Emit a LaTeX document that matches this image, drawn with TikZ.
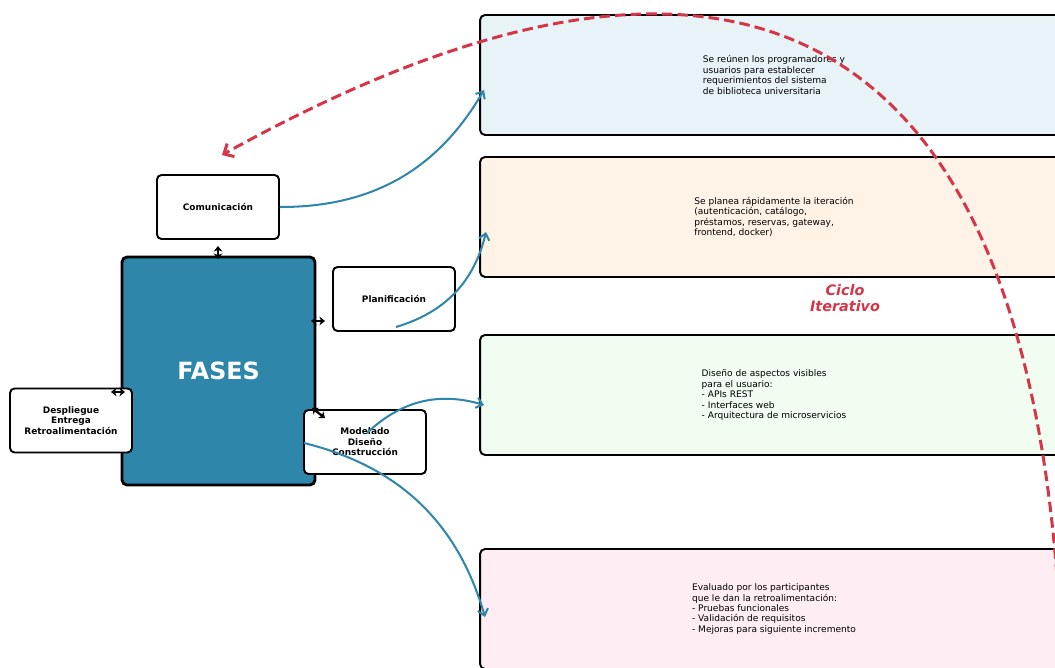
\documentclass[tikz,border=0pt]{standalone}
\usepackage{fontspec}
\setmainfont{DejaVu Sans}
\usetikzlibrary{arrows.meta,calc}

\definecolor{fasesblue}{HTML}{2E86AB}
\definecolor{flowblue}{HTML}{2E86AB}
\definecolor{cyclered}{HTML}{D63447}
\definecolor{fillone}{HTML}{E8F3F8}
\definecolor{filltwo}{HTML}{FEF3E6}
\definecolor{fillthree}{HTML}{F0FDF0}
\definecolor{fillfour}{HTML}{FEEEF3}

\tikzset{
  phasebox/.style={draw=black, line width=1.1pt, fill=white, rounded corners=0.09cm,
    minimum width=2.44cm, minimum height=1.28cm, inner sep=0pt, align=center,
    font=\bfseries\fontsize{5.1}{5.9}\selectfont},
  centerbox/.style={draw=black, line width=1.6pt, fill=fasesblue, rounded corners=0.1cm,
    minimum width=3.86cm, minimum height=4.56cm, inner sep=0pt, text=white,
    font=\bfseries\fontsize{13.5}{16}\selectfont},
  infobox/.style={draw=black, line width=1.1pt, rounded corners=0.1cm,
    minimum width=11.76cm, minimum height=2.4cm, inner sep=0pt},
  infotext/.style={align=left, inner sep=0pt, font=\fontsize{5.15}{5.95}\selectfont},
  flow/.style={draw=flowblue, line width=1.15pt, -{Straight Barb[length=3.5pt,width=6pt]}},
  tick/.style={draw=black, line width=1.3pt, {Stealth[length=3.2pt,width=5pt]}-{Stealth[length=3.2pt,width=5pt]}},
  cycle/.style={draw=cyclered, line width=1.7pt, dash pattern=on 6pt off 2.9pt,
    -{Straight Barb[length=4.5pt,width=8.5pt]}},
}

\begin{document}
\begin{tikzpicture}[x=0.02cm, y=-0.02cm]
  \useasboundingbox (0,0) rectangle (1055,668);
  \clip (0,0) rectangle (1055,668);
  \fill[white] (0,0) rectangle (1055,668);

  % description panels on the right
  \node[infobox, fill=fillone]   (infoone)   at (774,75)  {};
  \node[infobox, fill=filltwo]   (infotwo)   at (774,217) {};
  \node[infobox, fill=fillthree] (infothree) at (774,395) {};
  \node[infobox, fill=fillfour]  (infofour)  at (774,609) {};

  \node[infotext] (txtone) at (774,75) {Se reúnen los programadores y\\usuarios para establecer\\requerimientos del sistema\\de biblioteca universitaria};
  \node[infotext] (txttwo) at (774,217) {Se planea rápidamente la iteración\\(autenticación, catálogo,\\préstamos, reservas, gateway,\\frontend, docker)};
  \node[infotext] (txtthree) at (774,395) {Diseño de aspectos visibles\\para el usuario:\\- APIs REST\\- Interfaces web\\- Arquitectura de microservicios};
  \node[infotext] (txtfour) at (774,609) {Evaluado por los participantes\\que le dan la retroalimentación:\\- Pruebas funcionales\\- Validación de requisitos\\- Mejoras para siguiente incremento};

  % central block and the four phases
  \node[centerbox] (fases) at (218.5,371) {FASES};
  \node[phasebox] (com)  at (218,207)   {Comunicación};
  \node[phasebox] (plan) at (394,299)   {Planificación};
  \node[phasebox] (desp) at (71,420.5)  {Despliegue\\Entrega\\Retroalimentación};
  \node[phasebox] (mod)  at (365,442)   {Modelado\\Diseño\\Construcción};

  % short links between the central block and each phase
  \coordinate (tkcomA) at (218,259);  \coordinate (tkcomB) at (218,246);
  \coordinate (tkplA)  at (311,321);  \coordinate (tkplB)  at (325,321);
  \coordinate (tkdeA)  at (125,392);  \coordinate (tkdeB)  at (111,392);
  \coordinate (tkmoA)  at (312,408);  \coordinate (tkmoB)  at (325,418);
  \draw[tick] (tkcomA) -- (tkcomB);
  \draw[tick] (tkplA) -- (tkplB);
  \draw[tick] (tkdeA) -- (tkdeB);
  \draw[tick] (tkmoA) -- (tkmoB);

  % phase to description links
  \coordinate (plfrom) at (396,327);
  \coordinate (mofromA) at (367,433);
  \coordinate (mofromB) at (304,443);
  \coordinate (toone)   at (484,90);
  \coordinate (totwo)   at (486,232);
  \coordinate (tothree) at (484,405);
  \coordinate (tofour)  at (485,617);
  \draw[flow] (com.east) to[bend right=30] (toone);
  \draw[flow] (plfrom) to[bend right=30] (totwo);
  \draw[flow] (mofromA) to[bend left=30] (tothree);
  \draw[flow] (mofromB) to[bend left=30] (tofour);

  % iteration loop back to communication
  \coordinate (loopstart) at (1058,590);
  \coordinate (loopend) at (222,155);
  \draw[cycle] (loopstart) .. controls (1018,12) and (728,-126) .. (loopend);

  \node[text=cyclered, align=center, font=\bfseries\itshape\fontsize{8.2}{8.8}\selectfont] (ciclo) at (845,298) {Ciclo\\Iterativo};
\end{tikzpicture}
\end{document}
